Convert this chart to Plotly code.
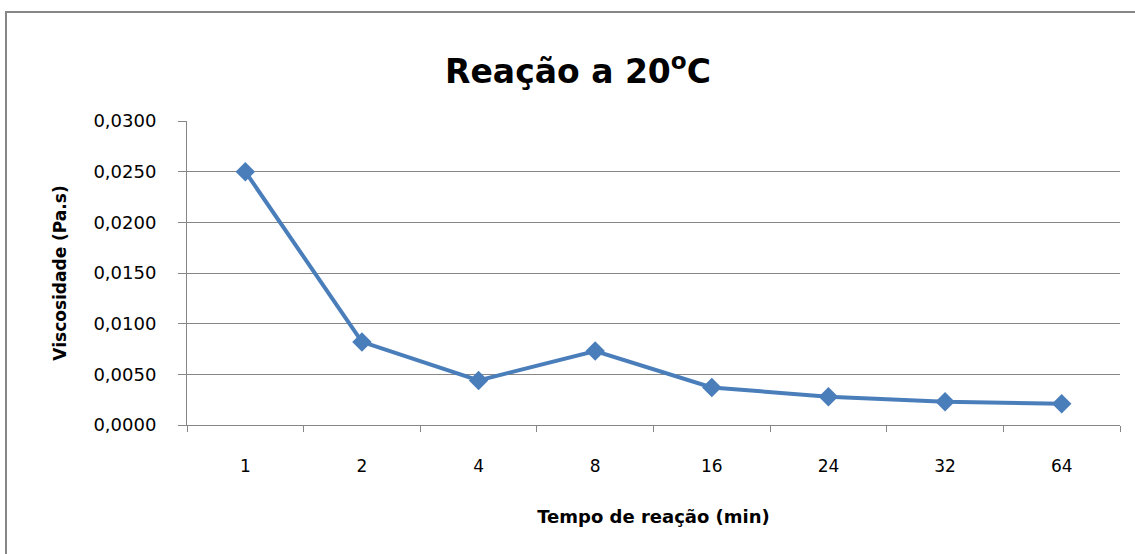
import plotly.graph_objects as go

tempos = ["1", "2", "4", "8", "16", "24", "32", "64"]
viscosidade = [0.0250, 0.0082, 0.0044, 0.0073, 0.0037, 0.0028, 0.0023, 0.0021]
y_ticks = [0.0, 0.005, 0.010, 0.015, 0.020, 0.025, 0.030]

W, H = 1135, 554
L, R, T, B = 187, 15, 121, 129
pw, ph = W - L - R, H - T - B

def px_x(x):
    return (x - L) / pw

def px_y(y):
    return (H - B - y) / ph

fig = go.Figure()
fig.add_trace(go.Scatter(
    x=tempos, y=viscosidade, mode="lines+markers",
    line=dict(color="#4A7EBB", width=4),
    marker=dict(symbol="diamond", size=15, color="#4A7EBB"),
    showlegend=False, cliponaxis=False,
))

font_family = "'DejaVu Sans', sans-serif"
fig.update_layout(
    width=W, height=H,
    margin=dict(l=L, r=R, t=T, b=B),
    paper_bgcolor="white", plot_bgcolor="white",
    separators=",.",
    font=dict(family=font_family, color="#000000"),
    title=dict(text="<b>Reação a 20<sup>o</sup>C</b>", x=px_x(578), xref="paper",
               xanchor="center", y=1 - 71 / H, yanchor="middle",
               font=dict(size=33, family=font_family)),
    xaxis=dict(
        type="category", range=[-0.5, 7.5],
        showline=True, linecolor="#868686", linewidth=1,
        ticks="outside", ticklen=6, tickcolor="#868686", tickson="boundaries",
        showgrid=False, zeroline=False,
        tickfont=dict(size=17, color="#000000"),
        ticklabelstandoff=26,
        title=dict(text="<b>Tempo de reação (min)</b>", font=dict(size=18), standoff=34),
        fixedrange=True,
    ),
    yaxis=dict(
        range=[0, 0.03], tickvals=y_ticks, tickformat=".4f",
        showline=True, linecolor="#868686", linewidth=1,
        ticks="outside", ticklen=8, tickcolor="#868686",
        showgrid=True, gridcolor="#868686", gridwidth=1,
        zeroline=False,
        tickfont=dict(size=18, color="#000000"),
        ticklabelstandoff=18,
        title=dict(text="<b>Viscosidade (Pa.s)</b>", font=dict(size=17), standoff=22),
        fixedrange=True,
    ),
    shapes=[dict(type="rect", xref="paper", yref="paper",
                 x0=px_x(6), y0=px_y(H + 5), x1=px_x(W + 5), y1=px_y(12),
                 line=dict(color="#868686", width=2), layer="below")],
)

fig.write_html("out.html")
